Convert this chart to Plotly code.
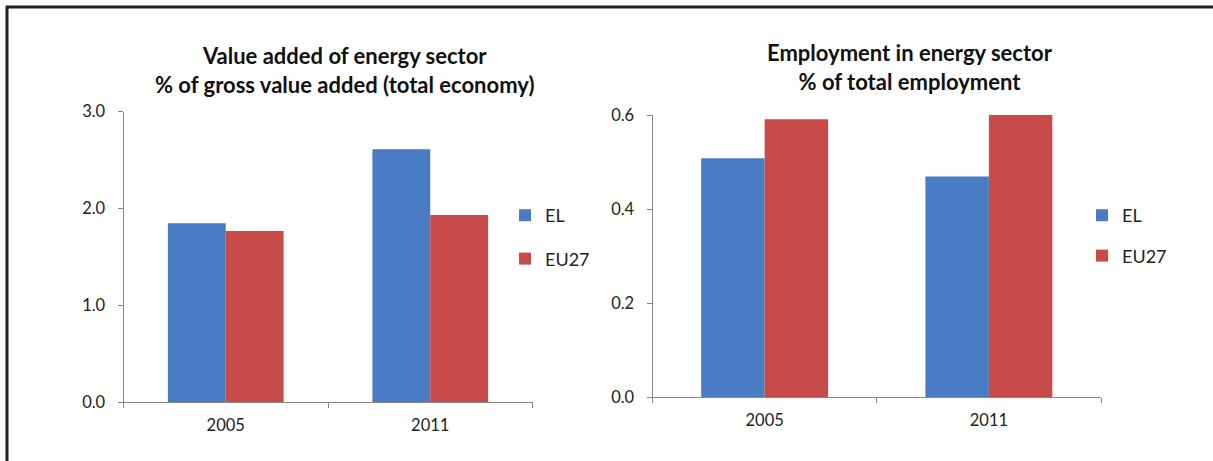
import plotly.graph_objects as go

years = ["2005", "2011"]
va_el = [1.845, 2.61]
va_eu27 = [1.766, 1.93]
emp_el = [0.508, 0.469]
emp_eu27 = [0.591, 0.600]

series_names = ["EL", "EU27"]
colors = ["#4a7cc4", "#c74b48"]

left_title = "Value added of energy sector<br>% of gross value added (total economy)"
right_title = "Employment in energy sector<br>% of total employment"
left_ticks = [0, 1, 2, 3]
left_ticktext = ["0.0", "1.0", "2.0", "3.0"]
right_ticks = [0, 0.2, 0.4, 0.6]
right_ticktext = ["0.0", "0.2", "0.4", "0.6"]

FONT = "Lato, 'Open Sans', sans-serif"
W, H = 1213, 461

fig = go.Figure()
for name, vals, col, grp in [(series_names[0], va_el, colors[0], "a"), (series_names[1], va_eu27, colors[1], "b")]:
    fig.add_trace(go.Bar(x=years, y=vals, name=name, marker=dict(color=col, line=dict(width=0)),
                         xaxis="x", yaxis="y", legend="legend", legendgroup=grp))
for name, vals, col, grp in [(series_names[0], emp_el, colors[0], "c"), (series_names[1], emp_eu27, colors[1], "d")]:
    fig.add_trace(go.Bar(x=years, y=vals, name=name, marker=dict(color=col, line=dict(width=0)),
                         xaxis="x2", yaxis="y2", legend="legend2", legendgroup=grp))

axcol = "#8c8585"
xcommon = dict(showline=True, linecolor=axcol, linewidth=1, ticks="outside", tickson="boundaries",
               ticklen=5, tickcolor=axcol, showgrid=False, zeroline=False, automargin=False,
               ticklabelstandoff=8,
               tickfont=dict(family=FONT, size=16.5, color="#222"), type="category")
ycommon = dict(showline=True, linecolor=axcol, linewidth=1, ticks="outside", ticklen=5, tickcolor=axcol,
               showgrid=False, zeroline=False, automargin=False, ticklabelstandoff=9,
               tickfont=dict(family=FONT, size=16.5, color="#222"))

fig.update_layout(
    width=W, height=H,
    margin=dict(l=0, r=0, t=0, b=0, autoexpand=False),
    paper_bgcolor="white", plot_bgcolor="white",
    barmode="group", bargap=0.434, bargroupgap=0,
    xaxis=dict(domain=[123.5 / W, 532.5 / W], anchor="y", **xcommon),
    yaxis=dict(domain=[(H - 402) / H, (H - 111.5) / H], range=[0, 3], anchor="x",
               tickvals=left_ticks, ticktext=left_ticktext, **ycommon),
    xaxis2=dict(domain=[652.5 / W, 1101 / W], anchor="y2", **xcommon),
    yaxis2=dict(domain=[(H - 397) / H, (H - 115) / H], range=[0, 0.6], anchor="x2",
                tickvals=right_ticks, ticktext=right_ticktext, **ycommon),
    legend=dict(x=505 / W, y=(H - 197) / H, xanchor="left", yanchor="top",
                font=dict(family=FONT, size=18, color="#222"), tracegroupgap=17,
                bgcolor="rgba(0,0,0,0)", itemwidth=30),
    legend2=dict(x=1082 / W, y=(H - 197) / H, xanchor="left", yanchor="top",
                 font=dict(family=FONT, size=18, color="#222"), tracegroupgap=14,
                 bgcolor="rgba(0,0,0,0)", itemwidth=30),
    annotations=[
        dict(text="<b>" + left_title + "</b>", x=344 / W, y=(H - 70.5) / H, xref="paper", yref="paper",
             showarrow=False, font=dict(family=FONT, size=22, color="#111"), xanchor="center", yanchor="middle"),
        dict(text="<b>" + right_title + "</b>", x=910 / W, y=(H - 66.5) / H, xref="paper", yref="paper",
             showarrow=False, font=dict(family=FONT, size=22, color="#111"), xanchor="center", yanchor="middle"),
    ],
    shapes=[
        dict(type="line", xref="paper", yref="paper", x0=6 / W, x1=1, y0=(H - 7) / H, y1=(H - 7) / H,
             line=dict(color="#222", width=3)),
        dict(type="line", xref="paper", yref="paper", x0=7 / W, x1=7 / W, y0=0, y1=(H - 6) / H,
             line=dict(color="#222", width=3)),
    ],
)

fig.write_html("out.html", config={"displayModeBar": False},
               post_script="document.body.style.margin='0';document.body.style.overflow='hidden';")
